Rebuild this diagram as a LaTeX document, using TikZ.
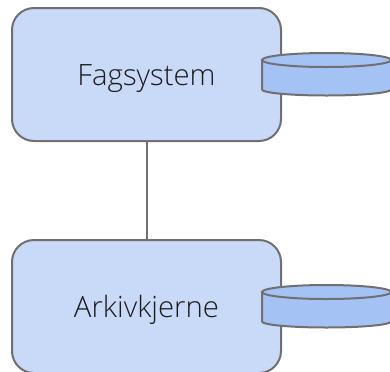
\documentclass[tikz,border=0pt]{standalone}
\usepackage{fontspec}
\setmainfont{Open Sans}[UprightFont=* Light]
\definecolor{boxfill}{HTML}{C9DAF8}
\definecolor{diskfill}{HTML}{A4C2F4}
\definecolor{edgegrey}{HTML}{707070}
\definecolor{textgrey}{HTML}{1C1C1C}
\tikzset{
	sysbox/.style={draw=edgegrey,fill=boxfill,line width=1.5pt,rounded corners=16.5pt,minimum width=201.75pt,minimum height=99.75pt,inner sep=0pt,text=textgrey,text height=22pt,text depth=5.4pt,font=\fontsize{22}{26}\selectfont},
	disk/.style={draw=edgegrey,fill=diskfill,line width=1.5pt}
}
\begin{document}
\begin{tikzpicture}[x=0.75pt,y=-0.75pt]
\useasboundingbox (0,0) rectangle (390,372);
\clip (0,0) rectangle (390,372);
\node[sysbox] (fagsystem) at (146.5,74.5) {Fagsystem};
\node[sysbox] (arkivkjerne) at (146.5,306.5) {Arkivkjerne};
\draw [edgegrey,line width=1.5pt] (fagsystem) -- (arkivkjerne);
\foreach \y in {60,292}
{
	\draw [disk] (262,\y) -- (262,\y+29.5) arc [start angle=180,end angle=360,x radius=64.5,y radius=-6] -- (391,\y) -- cycle;
	\draw [disk] (326.5,\y) ellipse [x radius=64.5,y radius=7];
}
\end{tikzpicture}
\end{document}
